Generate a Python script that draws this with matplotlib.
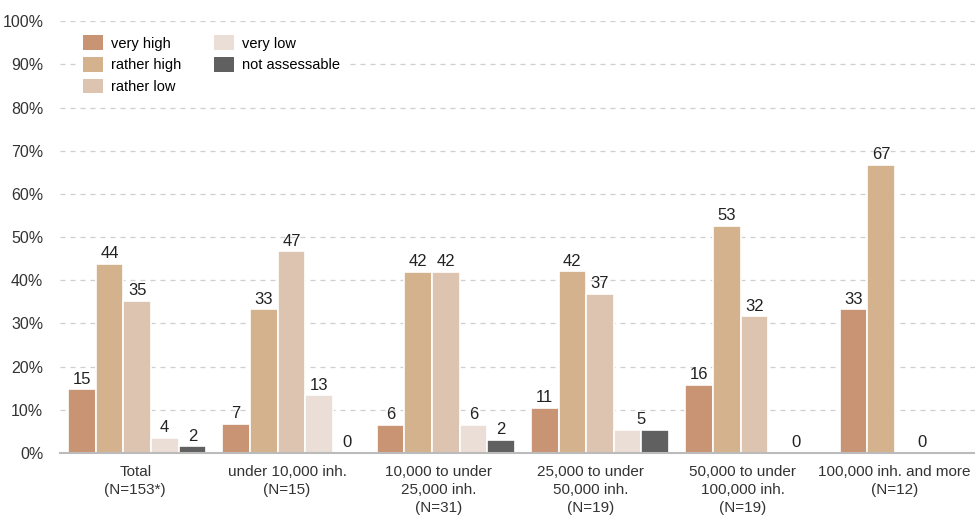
import matplotlib
matplotlib.use("Agg")
import matplotlib.pyplot as plt
from matplotlib.patches import Patch
import numpy as np

# data (bar heights in %, printed labels)
groups = ["Total\n(N=153*)", "under 10,000 inh.\n(N=15)", "10,000 to under\n25,000 inh.\n(N=31)",
          "25,000 to under\n50,000 inh.\n(N=19)", "50,000 to under\n100,000 inh.\n(N=19)",
          "100,000 inh. and more\n(N=12)"]
series = ["very high", "rather high", "rather low", "very low", "not assessable"]
colors = ["#C89474", "#D4B28E", "#DCC4B0", "#EADED6", "#606060"]

very_high = [14.7, 6.7, 6.5, 10.5, 15.8, 33.3]
rather_high = [43.8, 33.3, 41.9, 42.1, 52.6, 66.7]
rather_low = [35.3, 46.7, 41.9, 36.8, 31.6, 0]
very_low = [3.5, 13.3, 6.5, 5.3, 0, 0]
not_assessable = [1.5, 0, 3.1, 5.3, 0, 0]

# printed value labels: (group, slot, text); slot is the series index,
# a half slot means one label shared by two neighbouring bars
value_labels = [
    (0, 0, "15"), (0, 1, "44"), (0, 2, "35"), (0, 3, "4"), (0, 4, "2"),
    (1, 0, "7"), (1, 1, "33"), (1, 2, "47"), (1, 3, "13"), (1, 4, "0"),
    (2, 0, "6"), (2, 1, "42"), (2, 2, "42"), (2, 3, "6"), (2, 4, "2"),
    (3, 0, "11"), (3, 1, "42"), (3, 2, "37"), (3, 3.5, "5"),
    (4, 0, "16"), (4, 1, "53"), (4, 2, "32"), (4, 3.5, "0"),
    (5, 0, "33"), (5, 1, "67"), (5, 2.5, "0"),
]

values = [very_high, rather_high, rather_low, very_low, not_assessable]

plt.rcParams["font.family"] = ["Liberation Sans", "DejaVu Sans"]

fig = plt.figure(figsize=(9.75, 5.17), dpi=100)
ax = fig.add_axes([0.0615, 0.124, 0.9385, 0.835])

x = np.arange(len(groups))
w = 0.179
for i, vals in enumerate(values):
    ax.bar(x + (i - 2) * w, vals, width=w, color=colors[i], edgecolor="white", linewidth=1.2, zorder=3)

for g, slot, txt in value_labels:
    lo, hi = int(np.floor(slot)), int(np.ceil(slot))
    top = max(values[lo][g], values[hi][g])
    ax.text(g + (slot - 2) * w, top + 0.6, txt, ha="center", va="bottom", fontsize=12,
            color="#222222", zorder=4)

ax.set_ylim(0, 100)
ax.set_xlim(-0.5, 5.43)
ax.set_yticks(np.arange(0, 101, 10))
ax.set_yticklabels([f"{t}%" for t in range(0, 101, 10)], fontsize=11.5, color="#333333")
# category labels sit slightly left of the bar clusters in the original
ax.set_xticks(x * 0.984 - 0.012)
ax.set_xticklabels(groups, fontsize=11, color="#333333", linespacing=1.35)
ax.tick_params(length=0)
ax.tick_params(axis="y", pad=12)
ax.tick_params(axis="x", pad=9)
ax.grid(axis="y", color="#CFCFCF", linestyle=(0, (4, 4)), linewidth=0.9, zorder=0)
for s in ["top", "right", "left"]:
    ax.spines[s].set_visible(False)
ax.spines["bottom"].set_color("#BBBBBB")
ax.spines["bottom"].set_linewidth(1.5)
ax.spines["bottom"].set_zorder(4)

handles = [Patch(facecolor=c, edgecolor="none") for c in colors]
leg = ax.legend(handles, series, loc="upper left", bbox_to_anchor=(0.01, 0.999), ncol=2,
                frameon=True, fancybox=False, edgecolor="white", framealpha=1,
                prop={"size": 10.5},
                handlelength=1.4, handleheight=1.2, handletextpad=0.55, labelspacing=0.42,
                columnspacing=2.2, borderpad=0.45)
leg.set_zorder(5)

fig.savefig("out.png", dpi=100)
